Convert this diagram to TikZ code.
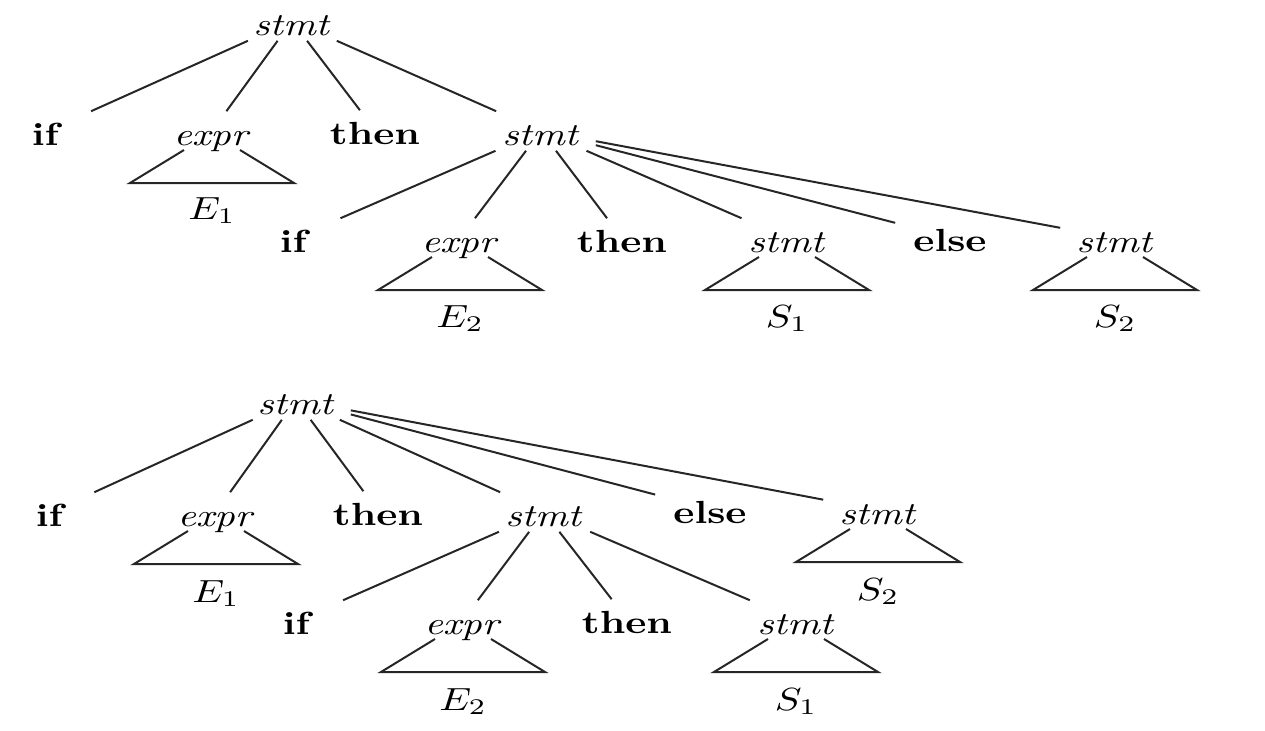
\documentclass[tikz,border=0pt]{standalone}
\usepackage{graphicx}
\usetikzlibrary{calc}
\newcommand\vsq[1]{\scalebox{1}[0.8]{#1}}
\newcommand\subtri[1]{\draw[branch] ($(#1.base)+(-28,5)$) -- ++(-54,33) -- ++(164,0) -- ++(-54,-33);}
\begin{document}
\begin{tikzpicture}[x=0.25pt,y=-0.25pt,
  sym/.style={rectangle,inner sep=0pt,minimum width=27pt,text height=8.25pt,text depth=1.25pt,anchor=base},
  lbl/.style={inner sep=0pt,anchor=base},
  branch/.style={line width=0.5pt,draw=black!85}]
\useasboundingbox (0,0) rectangle (1265,730);
% ---------- upper tree ----------
\node[sym] (r1) at (292,35) {\vsq{\textit{stmt}}};
\node[sym] (aif) at (47,145) {\vsq{\textbf{if}}};
\node[sym] (aexpr) at (212,145) {\vsq{\textit{expr}}};
\node[sym] (athen) at (375,144) {\vsq{\textbf{then}}};
\node[sym] (astmt) at (541,145) {\vsq{\textit{stmt}}};
\node[sym] (bif) at (295,252) {\vsq{\textbf{if}}};
\node[sym] (bexpr) at (460,252) {\vsq{\textit{expr}}};
\node[sym] (bthen) at (622,252) {\vsq{\textbf{then}}};
\node[sym] (bsa) at (787,252) {\vsq{\textit{stmt}}};
\node[sym] (belse) at (950,251) {\vsq{\textbf{else}}};
\node[sym] (bsb) at (1115,252) {\vsq{\textit{stmt}}};
\node[lbl] (le1) at ($(aexpr.base)+(0,74)$) {\vsq{$E_1$}};
\node[lbl] (le2) at ($(bexpr.base)+(0,75)$) {\vsq{$E_2$}};
\node[lbl] (ls1) at ($(bsa.base)+(0,75)$) {\vsq{$S_1$}};
\node[lbl] (ls2) at ($(bsb.base)+(0,75)$) {\vsq{$S_2$}};
\foreach \c in {aif,aexpr,athen,astmt} \draw[branch] (r1) -- (\c);
\foreach \c in {bif,bexpr,bthen,bsa,belse,bsb} \draw[branch] (astmt) -- (\c);
\subtri{aexpr}
\subtri{bexpr}
\subtri{bsa}
\subtri{bsb}
% ---------- lower tree ----------
\node[sym] (r2) at (296,414) {\vsq{\textit{stmt}}};
\node[sym] (cif) at (51,526) {\vsq{\textbf{if}}};
\node[sym] (cexpr) at (216,526) {\vsq{\textit{expr}}};
\node[sym] (cthen) at (378,525) {\vsq{\textbf{then}}};
\node[sym] (cstmt) at (544,526) {\vsq{\textit{stmt}}};
\node[sym] (celse) at (710,523) {\vsq{\textbf{else}}};
\node[sym] (csb) at (878,524) {\vsq{\textit{stmt}}};
\node[sym] (dif) at (298,634) {\vsq{\textbf{if}}};
\node[sym] (dexpr) at (463,634) {\vsq{\textit{expr}}};
\node[sym] (dthen) at (627,633) {\vsq{\textbf{then}}};
\node[sym] (dsa) at (796,634) {\vsq{\textit{stmt}}};
\node[lbl] (me1) at ($(cexpr.base)+(0,76)$) {\vsq{$E_1$}};
\node[lbl] (ms2) at ($(csb.base)+(0,76)$) {\vsq{$S_2$}};
\node[lbl] (me2) at ($(dexpr.base)+(0,76)$) {\vsq{$E_2$}};
\node[lbl] (ms1) at ($(dsa.base)+(0,76)$) {\vsq{$S_1$}};
\foreach \c in {cif,cexpr,cthen,cstmt,celse,csb} \draw[branch] (r2) -- (\c);
\foreach \c in {dif,dexpr,dthen,dsa} \draw[branch] (cstmt) -- (\c);
\subtri{cexpr}
\subtri{csb}
\subtri{dexpr}
\subtri{dsa}
\end{tikzpicture}
\end{document}
